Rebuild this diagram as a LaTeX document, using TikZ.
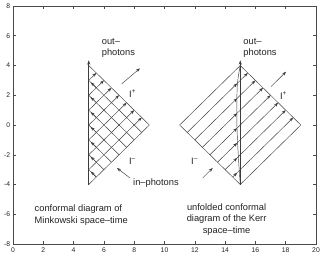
\documentclass[tikz,border=0pt]{standalone}
\usepackage{fontspec}
\setmainfont{Liberation Sans}
\usetikzlibrary{arrows.meta}
\definecolor{axisgray}{HTML}{4A4A4A}
\definecolor{raygray}{HTML}{3C3C3C}
\definecolor{textgray}{HTML}{222222}

\begin{document}
\begin{tikzpicture}[>={Stealth[length=4.2pt,width=3pt]}, x=15.15pt, y=14.875pt,
  ray/.style={raygray, line width=0.45pt},
  axisline/.style={raygray, line width=1.4pt},
  lbl/.style={textgray, font=\fontsize{9.3}{11.5}\selectfont, inner sep=0pt},
  ticklbl/.style={textgray, font=\fontsize{6.8}{7}\selectfont, inner sep=0pt}]
\useasboundingbox (-0.858,-8.874) rectangle (20.396,8.403);

% axes box with ticks (x: 0..20, y: -8..8)
\draw[axisgray, line width=0.6pt] (0,-8) rectangle (20,8);
\foreach \t in {2,4,...,18} {
  \draw[axisgray, line width=0.5pt] (\t,-8) -- ++(0,0.2);
  \draw[axisgray, line width=0.5pt] (\t,8) -- ++(0,-0.2);
}
\foreach \t in {-6,-4,...,6} {
  \draw[axisgray, line width=0.5pt] (0,\t) -- ++(0.2,0);
  \draw[axisgray, line width=0.5pt] (20,\t) -- ++(-0.2,0);
}
\foreach \t in {0,2,...,20}
  \node[ticklbl] (xt\t) at (\t,-8.42) {\t};
\foreach \t in {-8,-6,...,8}
  \node[ticklbl, anchor=east] (yt\t) at (-0.17,\t) {\t};

% Minkowski diagram: triangle (5,-4), (5,4), (9,0)
\coordinate (Mtop) at (5,4);
\coordinate (Mbot) at (5,-4);
\coordinate (Mright) at (9,0);
\draw[ray] (Mtop) -- (Mright) -- (Mbot);
\foreach \c in {-3,...,3} {
  % in-photon from I^- to r=0, then out to I^+
  \pgfmathsetmacro\a{(\c+4)/2}
  \pgfmathsetmacro\b{(4-\c)/2}
  \draw[ray] ({5+\a},{-4+\a}) -- (5,\c);
  \draw[ray,->] ({5.5},{\c-0.5}) -- ({5.13},{\c-0.13});
  \draw[ray,->] (5,\c) -- ({5+\b},{\c+\b});
}
\draw[axisline,->] (Mbot) -- (5,4.35);

% Kerr diagram: diamond (11,0), (15,4), (19,0), (15,-4)
\coordinate (Kleft) at (11,0);
\coordinate (Ktop) at (15,4);
\coordinate (Kright) at (19,0);
\coordinate (Kbot) at (15,-4);
\draw[ray] (Kleft) -- (Ktop) -- (Kright) -- (Kbot) -- cycle;
\foreach \s in {0.5,1,...,3.5} {
  \draw[ray,->] ({11+\s},{-\s}) -- (14.8,{3.8-2*\s});
  \draw[ray,->] (14.8,{3.8-2*\s}) -- ({15+\s},{4-\s});
}
\draw[ray] plot[smooth] coordinates {(15,4) (14.8,2.6) (14.78,0) (14.88,-2.2) (15,-4)};
\draw[axisline,->] (Kbot) -- (15,4.35);

% labels, Minkowski
\node[lbl, anchor=west, align=left] (Mout) at (5.85,5.18) {out--\\photons};
\coordinate (MoutA) at (7.17,2.76);
\coordinate (MoutB) at (8.38,3.81);
\draw[ray,->] (MoutA) -- (MoutB);
\node[lbl, anchor=west] (Mscri+) at (7.65,2.1) {I\textsuperscript{+}};
\node[lbl, anchor=west] (Mscri-) at (7.65,-2.42) {I\textsuperscript{--}};
\node[lbl, anchor=west] (Min) at (7.92,-3.92) {in--photons};
\coordinate (MinA) at (7.72,-3.56);
\coordinate (MinB) at (6.86,-2.89);
\draw[ray,->] (MinA) -- (MinB);
\node[lbl, anchor=west, align=left] (Mcap) at (1.42,-6.07)
  {conformal diagram of\\Minkowski space--time};

% labels, Kerr
\node[lbl, anchor=west, align=left] (Kout) at (15.2,5.18) {out--\\photons};
\coordinate (KoutA) at (17.03,2.58);
\coordinate (KoutB) at (18.02,3.58);
\draw[ray,->] (KoutA) -- (KoutB);
\node[lbl, anchor=west] (Kscri+) at (17.62,2.0) {I\textsuperscript{+}};
\node[lbl, anchor=west] (Kscri-) at (11.75,-2.42) {I\textsuperscript{--}};
\coordinate (KinA) at (12.52,-3.56);
\coordinate (KinB) at (13.18,-2.89);
\draw[ray,->] (KinA) -- (KinB);
\node[lbl, align=center] (Kcap) at (14.1,-6.35)
  {unfolded conformal\\diagram of the Kerr\\space--time};

\end{tikzpicture}
\end{document}
